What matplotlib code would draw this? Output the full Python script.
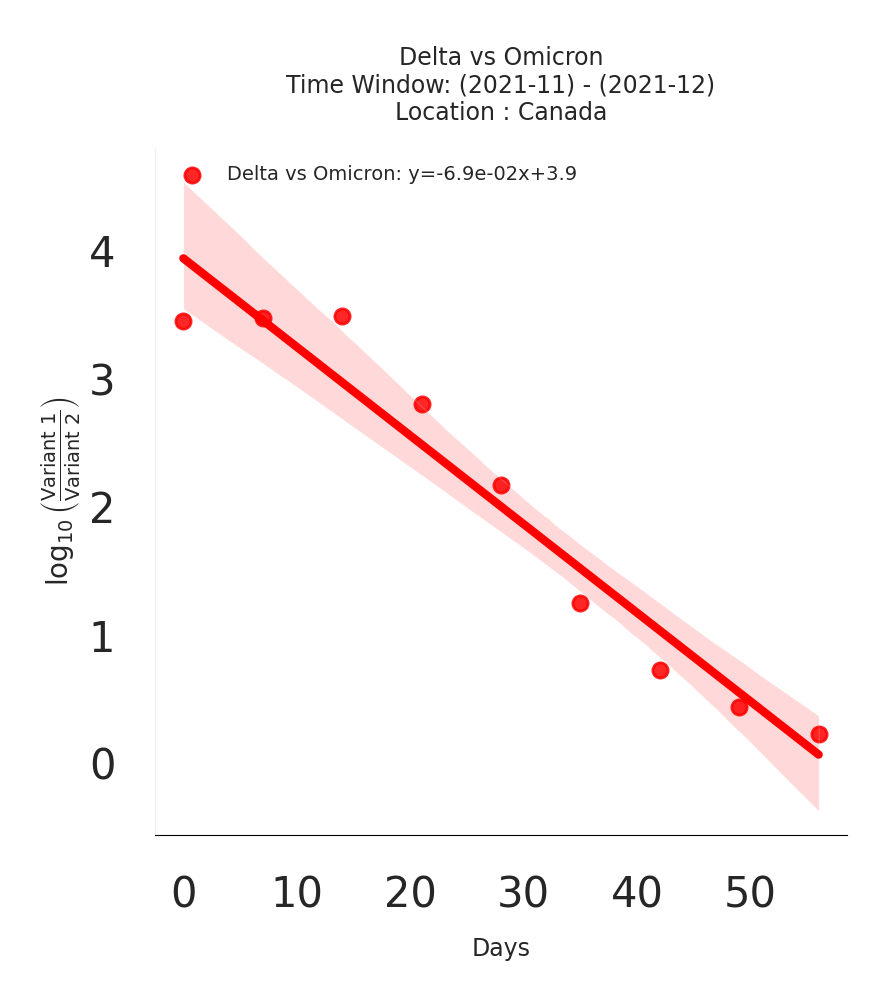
import numpy as np
import matplotlib
matplotlib.use("Agg")
import matplotlib.pyplot as plt
import seaborn as sns

days = [0, 7, 14, 21, 28, 35, 42, 49, 56]
log_ratio = [3.45, 3.47, 3.49, 2.80, 2.17, 1.25, 0.73, 0.44, 0.23]

sns.set_style("white")
fig = plt.figure(figsize=(8.79, 9.98), dpi=100)
ax = fig.add_axes([155 / 879, 1 - 835 / 998, 692 / 879, 687 / 998])

slope, intercept = np.polyfit(days, log_ratio, 1)
label = f"Delta vs Omicron: y={slope:.1e}x+{intercept:.1f}"
sns.regplot(x=days, y=log_ratio, ax=ax, color="red", seed=0,
            scatter_kws={"s": 120, "edgecolor": "red", "linewidths": 2, "alpha": 0.85},
            line_kws={"linewidth": 6}, label=label)

ax.set_xlim(-2.5, 58.5)
ax.set_ylim(-0.56, 4.8)
ax.set_xticks([0, 10, 20, 30, 40, 50])
ax.set_yticks([0, 1, 2, 3, 4])
ax.tick_params(axis="both", labelsize=30, pad=25)
ax.set_xlabel("Days", fontsize=17, labelpad=15)
ax.set_ylabel(r"$\log_{10}\left(\frac{\mathrm{Variant\ 1}}{\mathrm{Variant\ 2}}\right)$", fontsize=20)
ax.set_title("Delta vs Omicron\nTime Window: (2021-11) - (2021-12)\nLocation : Canada",
             fontsize=17, pad=20)
sns.despine(ax=ax)
ax.spines["bottom"].set_color("black")
ax.spines["left"].set_color("#eeeeee")
ax.legend(loc="upper left", frameon=False, fontsize=14)

fig.savefig("out.png", dpi=100)
